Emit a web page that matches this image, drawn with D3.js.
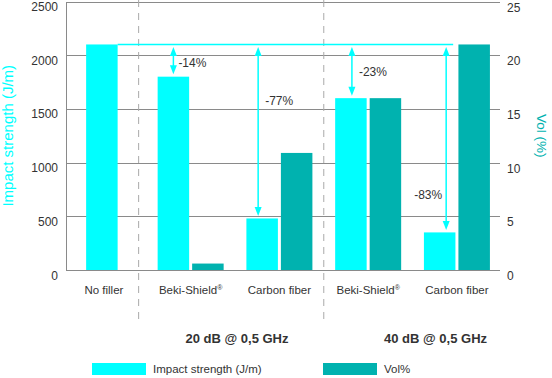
<!DOCTYPE html>
<html>
<head>
<meta charset="utf-8">
<script src="https://cdn.jsdelivr.net/npm/d3@7"></script>
<style>
  body { margin: 0; background: #fff; }
  svg { display: block; font-family: "Liberation Sans", Arial, sans-serif; }
  .grid line { stroke: #8a8a8a; shape-rendering: crispEdges; }
  .grid path { stroke: #8a8a8a; shape-rendering: crispEdges; }
  .tick text { fill: #333; font-size: 12px; }
</style>
</head>
<body>
<div id="chart"></div>
<script>
// chart data
var CATEGORIES = ['No filler', 'Beki-Shield', 'Carbon fiber', 'Beki-Shield', 'Carbon fiber'];
var REGISTERED = [false, true, false, true, false];
var IMPACT = [2100, 1800, 480, 1600, 350];      // J/m
var VOL = [null, 0.6, 10.9, 16.0, 21.0];        // Vol%
var DIFFS = [null, '-14%', '-77%', '-23%', '-83%'];
var GROUPS = ['20 dB @ 0,5 GHz', '40 dB @ 0,5 GHz'];
var LEFT_TICKS = [0, 500, 1000, 1500, 2000, 2500];
var RIGHT_TICKS = [0, 5, 10, 15, 20, 25];

var CYAN = '#00ffff';
var TEAL = '#00b2af';
var TEXT = '#333';

var width = 552, height = 378;
var plotLeft = 66, plotRight = 500, plotTop = 1.5, plotBottom = 270;

var svg = d3.select('#chart').append('svg')
  .attr('width', width)
  .attr('height', height);

var x = d3.scaleBand().domain(d3.range(CATEGORIES.length)).range([57.5, 501.3]).padding(0);
var yL = d3.scaleLinear().domain([0, 2500]).range([plotBottom, plotTop]);
var yR = d3.scaleLinear().domain([0, 25]).range([plotBottom, plotTop]);

var bw = 31.5, gap = 3;
function cx(i) { return x(i) + x.bandwidth() / 2; }
function cyanX(i) { return i === 0 ? cx(i) - bw / 2 : cx(i) - gap / 2 - bw; }
function cyanCenter(i) { return cyanX(i) + bw / 2; }

// gridlines + left axis
var left = svg.append('g')
  .attr('class', 'grid')
  .attr('transform', 'translate(' + plotLeft + ',0)')
  .call(d3.axisLeft(yL).tickValues(LEFT_TICKS).tickFormat(d3.format('d'))
    .tickSize(-(plotRight - plotLeft)).tickSizeOuter(0).tickPadding(8));
left.selectAll('.tick text').attr('dy', '0.75em');

// right axis labels
var right = svg.append('g')
  .attr('class', 'grid')
  .attr('transform', 'translate(' + plotRight + ',0)')
  .call(d3.axisRight(yR).tickValues(RIGHT_TICKS).tickFormat(d3.format('d')).tickSize(0).tickPadding(7));
right.select('.domain').remove();
right.selectAll('.tick text').attr('dy', '0.8em');

// dashed group separators
var seps = [
  (cx(0) + bw / 2 + cyanX(1)) / 2 + 1,
  (cx(2) + cx(3)) / 2
];
svg.selectAll('.sep').data(seps).enter().append('line')
  .attr('class', 'sep')
  .attr('x1', function(d) { return d; })
  .attr('x2', function(d) { return d; })
  .attr('y1', 0)
  .attr('y2', 320)
  .attr('stroke', '#aaa')
  .attr('stroke-dasharray', '7,6');

// impact bars
svg.selectAll('.impact').data(IMPACT).enter().append('rect')
  .attr('class', 'impact')
  .attr('x', function(d, i) { return cyanX(i); })
  .attr('y', function(d) { return yL(d); })
  .attr('width', bw)
  .attr('height', function(d) { return plotBottom - yL(d); })
  .attr('fill', CYAN);

// vol bars
svg.selectAll('.vol').data(VOL.map(function(v, i) { return { v: v, i: i }; }).filter(function(d) { return d.v !== null; }))
  .enter().append('rect')
  .attr('class', 'vol')
  .attr('x', function(d) { return cx(d.i) + gap / 2; })
  .attr('y', function(d) { return yR(d.v); })
  .attr('width', bw)
  .attr('height', function(d) { return plotBottom - yR(d.v); })
  .attr('fill', TEAL);

// reference line at "no filler" level
var refY = yL(IMPACT[0]);
var arrowShift = [0, 0, -4, 1, 6.5];
var labelT = [0, 0.58, 0.32, 0.51, 0.81];
svg.append('line')
  .attr('x1', cx(0) + bw / 2)
  .attr('x2', cyanCenter(4) + arrowShift[4] + 7)
  .attr('y1', refY)
  .attr('y2', refY)
  .attr('stroke', CYAN)
  .attr('stroke-width', 1.5);

// double arrows
var head = 9, hw = 3.5;
d3.range(1, IMPACT.length).forEach(function(i) {
  var ax = cyanCenter(i) + arrowShift[i];
  var top = refY + 2.5, bot = yL(IMPACT[i]) - 2.5;
  svg.append('line')
    .attr('x1', ax).attr('x2', ax)
    .attr('y1', top + head - 1).attr('y2', bot - head + 1)
    .attr('stroke', CYAN).attr('stroke-width', 1.5);
  svg.append('path')
    .attr('d', 'M' + ax + ',' + top + 'L' + (ax - hw) + ',' + (top + head) + 'L' + (ax + hw) + ',' + (top + head) + 'Z')
    .attr('fill', CYAN);
  svg.append('path')
    .attr('d', 'M' + ax + ',' + bot + 'L' + (ax - hw) + ',' + (bot - head) + 'L' + (ax + hw) + ',' + (bot - head) + 'Z')
    .attr('fill', CYAN);
  var ly = top + (bot - top) * labelT[i];
  var lastOne = i === IMPACT.length - 1;
  svg.append('text')
    .attr('x', lastOne ? ax - 4 : ax + 5 + (i === 1 ? 0 : 2))
    .attr('y', ly)
    .attr('dy', '0.35em')
    .attr('text-anchor', lastOne ? 'end' : 'start')
    .attr('font-size', 12)
    .attr('fill', TEXT)
    .text(DIFFS[i]);
});

// category labels
var cat = svg.selectAll('.cat').data(CATEGORIES).enter().append('text')
  .attr('class', 'cat')
  .attr('x', function(d, i) { return cx(i) + (i === 0 ? 2 : 0); })
  .attr('y', 294)
  .attr('text-anchor', 'middle')
  .attr('font-size', 11.5)
  .attr('fill', TEXT);
cat.append('tspan').text(function(d) { return d; });
cat.filter(function(d, i) { return REGISTERED[i]; })
  .append('tspan')
  .attr('font-size', 7)
  .attr('dy', -4)
  .text('®');

// group labels
var groupX = [(cx(1) + cx(2)) / 2 + 2, (cx(3) + cx(4)) / 2 + 23];
svg.selectAll('.grp').data(GROUPS).enter().append('text')
  .attr('class', 'grp')
  .attr('x', function(d, i) { return groupX[i]; })
  .attr('y', 343)
  .attr('text-anchor', 'middle')
  .attr('font-size', 13)
  .attr('font-weight', 'bold')
  .attr('fill', TEXT)
  .text(function(d) { return d; });

// axis titles
var midY = (plotTop + plotBottom) / 2;
svg.append('text')
  .attr('transform', 'translate(13,' + midY + ') rotate(-90)')
  .attr('text-anchor', 'middle')
  .attr('font-size', 15)
  .attr('fill', CYAN)
  .text('Impact strength (J/m)');
svg.append('text')
  .attr('transform', 'translate(537,' + midY + ') rotate(90)')
  .attr('text-anchor', 'middle')
  .attr('font-size', 13.5)
  .attr('fill', TEAL)
  .text('Vol (%)');

// legend
var legend = [
  { label: 'Impact strength (J/m)', color: CYAN, x: 92 },
  { label: 'Vol%', color: TEAL, x: 323 }
];
var lg = svg.selectAll('.lg').data(legend).enter().append('g')
  .attr('transform', function(d) { return 'translate(' + d.x + ',363)'; });
lg.append('rect').attr('width', 54).attr('height', 12).attr('fill', function(d) { return d.color; });
lg.append('text')
  .attr('x', 61)
  .attr('y', 10)
  .attr('font-size', 11.5)
  .attr('fill', TEXT)
  .text(function(d) { return d.label; });
</script>
</body>
</html>
